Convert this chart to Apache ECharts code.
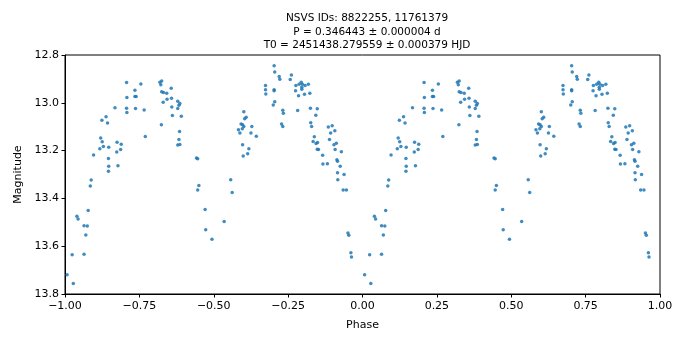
<!DOCTYPE html>
<html>
<head>
<meta charset="utf-8">
<script src="https://cdn.jsdelivr.net/npm/echarts@6/dist/echarts.min.js"></script>
<style>
  html, body { margin: 0; padding: 0; background: #fff; }
  #chart { width: 690px; height: 345px; }
</style>
</head>
<body>
<div id="chart"></div>
<script>
// phase-folded light curve, one cycle (phase 0..1); plotted again shifted by -1
var phase = [
  0.007, 0.024, 0.028, 0.040, 0.044, 0.064, 0.064, 0.070, 0.075, 0.078,
  0.085, 0.088, 0.096, 0.117, 0.120, 0.124, 0.125, 0.129, 0.138, 0.143,
  0.146, 0.146, 0.147, 0.147, 0.168, 0.174, 0.175, 0.178, 0.187, 0.189,
  0.207, 0.207, 0.208, 0.208, 0.235, 0.235, 0.237, 0.239, 0.255, 0.266,
  0.270, 0.319, 0.322, 0.324, 0.325, 0.325, 0.330, 0.331, 0.342, 0.343,
  0.357, 0.358, 0.359, 0.361, 0.379, 0.379, 0.379, 0.383, 0.383, 0.385,
  0.386, 0.386, 0.391, 0.442, 0.446, 0.446, 0.450, 0.471, 0.473, 0.494,
  0.535, 0.557, 0.562, 0.583, 0.588, 0.592, 0.596, 0.597, 0.597, 0.599,
  0.601, 0.601, 0.604, 0.609, 0.614, 0.618, 0.625, 0.628, 0.643, 0.674,
  0.674, 0.675, 0.700, 0.703, 0.703, 0.703, 0.705, 0.705, 0.720, 0.722,
  0.728, 0.732, 0.732, 0.734, 0.757, 0.761, 0.775, 0.776, 0.782, 0.785,
  0.787, 0.794, 0.796, 0.796, 0.798, 0.805, 0.807, 0.818, 0.823, 0.825,
  0.826, 0.829, 0.834, 0.838, 0.843, 0.844, 0.848, 0.848, 0.849, 0.852,
  0.866, 0.867, 0.882, 0.885, 0.889, 0.893, 0.898, 0.904, 0.907, 0.908,
  0.912, 0.914, 0.916, 0.916, 0.917, 0.925, 0.929, 0.935, 0.938, 0.946,
  0.951, 0.954, 0.961, 0.963
];
var magnitude = [
  13.719, 13.636, 13.756, 13.475, 13.486, 13.514, 13.634, 13.553, 13.515, 13.451,
  13.348, 13.323, 13.218, 13.192, 13.147, 13.073, 13.163, 13.183, 13.058, 13.085,
  13.233, 13.286, 13.186, 13.266, 13.021, 13.206, 13.165, 13.263, 13.195, 13.173,
  12.915, 13.023, 12.978, 13.041, 12.948, 12.974, 13.024, 12.974, 12.921, 13.030,
  13.141, 12.914, 12.924, 13.092, 12.909, 12.954, 12.998, 12.957, 12.960, 12.985,
  12.939, 12.981, 13.018, 13.053, 12.993, 13.024, 13.177, 13.010, 13.154, 13.120,
  13.003, 13.174, 13.056, 13.231, 13.234, 13.365, 13.346, 13.446, 13.531, 13.571,
  13.497, 13.322, 13.375, 13.113, 13.126, 13.089, 13.109, 13.092, 13.176, 13.223,
  13.037, 13.099, 13.067, 13.060, 13.213, 13.192, 13.126, 13.099, 13.140, 12.928,
  12.945, 12.963, 13.009, 12.845, 12.945, 12.950, 12.871, 12.996, 12.890, 12.901,
  13.089, 13.031, 13.099, 13.044, 12.903, 12.884, 12.950, 12.928, 13.032, 12.970,
  12.922, 12.914, 12.935, 12.943, 12.922, 12.964, 12.928, 12.922, 12.960, 13.023,
  13.083, 13.099, 13.162, 13.142, 13.052, 13.170, 13.025, 13.194, 13.166, 13.195,
  13.219, 13.256, 13.255, 13.101, 13.154, 13.126, 13.096, 13.176, 13.117, 13.195,
  13.169, 13.238, 13.245, 13.293, 13.322, 13.265, 13.205, 13.365, 13.300, 13.365,
  13.545, 13.554, 13.627, 13.645
];
var titleLines = [
  'NSVS IDs: 8822255, 11761379',
  'P = 0.346443 \u00b1 0.000004 d',
  'T0 = 2451438.279559 \u00b1 0.000379 HJD'
];

var points = [];
for (var i = 0; i < phase.length; i++) {
  points.push([phase[i], magnitude[i]]);
  points.push([phase[i] - 1, magnitude[i]]);
}

var font = 'DejaVu Sans';
var chart = echarts.init(document.getElementById('chart'), null, { renderer: 'canvas' });

chart.setOption({
  animation: false,
  backgroundColor: '#fff',
  title: {
    text: titleLines.join('\n'),
    left: 362,
    top: 7,
    textAlign: 'center',
    textStyle: {
      fontFamily: font,
      fontSize: 10.5,
      fontWeight: 'normal',
      color: '#000',
      lineHeight: 13.5
    }
  },
  grid: {
    left: 65,
    right: 30,
    top: 55,
    bottom: 51,
    show: true,
    borderColor: '#000',
    borderWidth: 1
  },
  xAxis: {
    type: 'value',
    min: -1,
    max: 1,
    interval: 0.25,
    name: 'Phase',
    nameLocation: 'middle',
    nameGap: 26,
    nameTextStyle: { fontFamily: font, fontSize: 11, color: '#000' },
    axisLine: { show: true, onZero: false, lineStyle: { color: '#000', width: 1 } },
    axisTick: { show: true, length: 3.5, lineStyle: { color: '#000' } },
    axisLabel: {
      fontFamily: font, fontSize: 11, color: '#000', margin: 7,
      formatter: function (v) { return (v < 0 ? '\u2212' : '') + Math.abs(v).toFixed(2); }
    },
    splitLine: { show: false }
  },
  yAxis: {
    type: 'value',
    inverse: true,
    min: 12.8,
    max: 13.8,
    interval: 0.2,
    name: 'Magnitude',
    nameLocation: 'middle',
    nameGap: 40,
    nameTextStyle: { fontFamily: font, fontSize: 11, color: '#000' },
    axisLine: { show: true, onZero: false, lineStyle: { color: '#000', width: 1 } },
    axisTick: { show: true, length: 3.5, lineStyle: { color: '#000' } },
    axisLabel: {
      fontFamily: font, fontSize: 11, color: '#000', margin: 6,
      formatter: function (v) { return v.toFixed(1); }
    },
    splitLine: { show: false }
  },
  series: [{
    type: 'scatter',
    data: points,
    symbolSize: 3.5,
    itemStyle: { color: '#1f77b4', opacity: 0.85 }
  }]
});
</script>
</body>
</html>
